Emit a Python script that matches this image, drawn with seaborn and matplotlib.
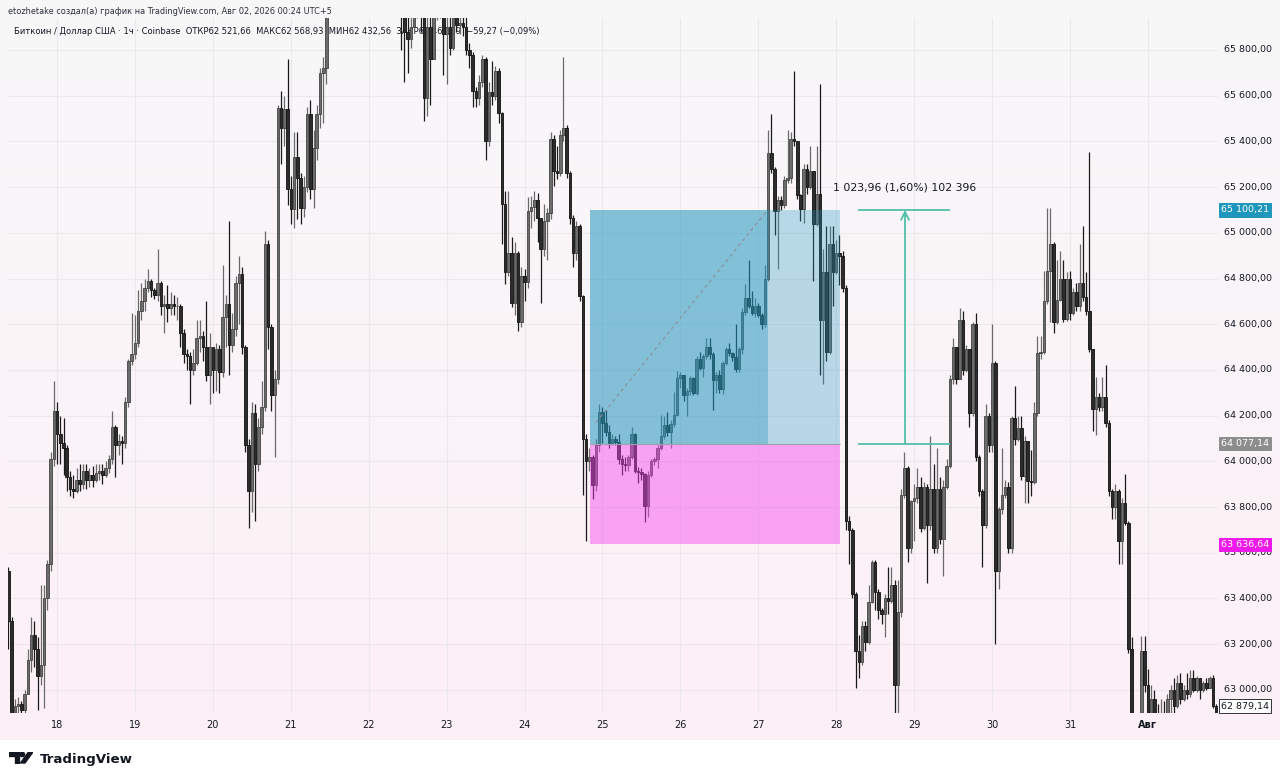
import numpy as np
import matplotlib
matplotlib.use("Agg")
import matplotlib.pyplot as plt
import matplotlib.transforms as mtransforms
from matplotlib.patches import Rectangle, Polygon, Circle
import seaborn as sns

sns.set_theme(style="white")
plt.rcParams['font.family'] = ['DejaVu Sans']

# BTC/USD 1h candles (Coinbase), 17 Jul 09:00 .. 1 Aug
first_open = 63520
closes = [
    # 17-19
    63300, 62900, 62930, 62940, 62910, 62980, 63130, 63240, 63180, 63060,
    63110, 63400, 63550, 64010, 64220, 64120, 64080, 64060, 63930, 63880,
    63870, 63920, 63900, 63960, 63920, 63940, 63920, 63950, 63960, 63940,
    63970, 64010, 64150, 64070, 64090, 64080, 64260, 64440, 64470, 64520,
    64660, 64700, 64760, 64790, 64750, 64730, 64780, 64680, 64690, 64670,
    64690, 64680, 64680, 64560, 64470, 64460, 64400, 64430, 64540, 64550,
    64500,
    # 19-21
    64380, 64500, 64400, 64490, 64390, 64630, 64690, 64510, 64580, 64780,
    64820, 64500, 64070, 63870, 64210, 63990, 64150, 64240, 64950, 64590,
    64290, 64360, 65545, 65460, 65540, 65190, 65105, 65330, 65240, 65110,
    65200, 65520, 65190, 65370, 65520, 65700, 65720, 65990,
    # 21-22 (above the visible range)
    66050, 66120, 66180, 66100, 66230, 66150, 66080, 66200, 66260, 66170,
    66110, 66190, 66240, 66160, 66090, 66140, 66210, 66130, 66060, 66110,
    66040, 66000,
    # 22-24
    65960, 65880, 65850, 65900, 65980, 66000, 65950, 65590, 65900, 65760,
    65960, 66000, 65990, 65870, 65900, 65810, 65950, 65910, 65920, 65900,
    65800, 65780, 65620, 65590, 65660, 65760, 65400, 65615, 65600, 65710,
    65525, 65125, 64830, 64910, 64695, 64910, 64610, 64810, 64785, 65095,
    65115, 65145, 65065, 64930, 65050, 65085, 65410, 65270, 65260, 65430,
    65460, 65260, 65065, 64910, 65030, 64725, 64100, 64000, 64020, 63895,
    64070, 64215,
    # 25-27
    64170, 64130, 64080, 64100, 64085, 64010, 63990, 63985, 64020, 64120,
    63960, 63955, 63945, 63805, 63940, 64000, 64010, 64060, 64110, 64160,
    64130, 64165, 64205, 64365, 64380, 64290, 64310, 64365, 64300, 64450,
    64410, 64460, 64500, 64470, 64355, 64380, 64315, 64430, 64490, 64475,
    64455, 64405, 64490, 64655, 64715, 64680, 64650, 64680, 64640, 64600,
    64800, 65350, 65280, 65095, 65145, 65120, 65230, 65240, 65410, 65400,
    65165, 65105, 65280, 65200,
    # 27-30
    65270, 65040, 65170, 64620, 64830, 64480, 64950, 64830, 64910, 64900,
    64760, 63740, 63700, 63420, 63170, 63120, 63280, 63210, 63385, 63560,
    63430, 63350, 63330, 63400, 63390, 63460, 63020, 63340, 63855, 63970,
    63620, 63825, 63840, 63890, 63710, 63890, 63720, 63880, 63620, 63880,
    63660, 63890, 63980, 64360, 64500, 64360, 64620, 64400, 64490, 64210,
    64600, 64020, 63870, 63720, 64200, 64070, 64430, 63520, 63790, 63855,
    63890, 63620,
    # 30 - Aug 1
    64190, 64100, 64145, 63935, 64090, 63915, 63910, 64210, 64475, 64480,
    64700, 64835, 64950, 64612, 64708, 64800, 64625, 64800, 64650, 64740,
    64680, 64780, 64720, 64660, 64490, 64230, 64283, 64240, 64283, 64170,
    63870, 63800, 63870, 63650, 63820, 63730, 63180, 62880, 62700, 62780,
    63170, 63020, 62900, 62960, 62890, 62860, 62900, 62880, 62960, 63000,
    62930, 63030, 62960, 63000, 62980, 63050, 63000, 63050, 63000, 63030,
    63010, 63050, 62930, 62879,
]
highs = [
    63540, 63320, 62960, 62970, 62950, 63000, 63180, 63320, 63300, 63230,
    63460, 63460, 63570, 64040, 64350, 64260, 64200, 64190, 64070, 63960,
    63940, 63970, 63990, 63990, 63990, 63970, 63980, 63990, 63990, 63990,
    64000, 64030, 64220, 64160, 64120, 64110, 64280, 64450, 64650, 64640,
    64750, 64780, 64800, 64840, 64800, 64760, 64930, 64790, 64730, 64770,
    64740, 64730, 64720, 64690, 64580, 64490, 64480, 64490, 64620, 64620,
    64570,
    64700, 64560, 64500, 64520, 64510, 64860, 64730, 65050, 64650, 64810,
    64900, 64850, 64510, 64100, 64260, 64250, 64190, 64350, 65010, 64970,
    64600, 64400, 65560, 65620, 65600, 65760, 65250, 65440, 65440, 65260,
    65250, 65550, 65580, 65450, 65560, 65720, 65770, 66020,
    66130, 66200, 66250, 66190, 66300, 66240, 66160, 66280, 66330, 66250,
    66190, 66260, 66310, 66240, 66170, 66220, 66290, 66210, 66140, 66190,
    66120, 66080,
    66050, 66000, 65990, 66010, 66080, 66100, 66080, 65980, 65960, 65960,
    66020, 66080, 66060, 66020, 65980, 65950, 66000, 66000, 65990, 65990,
    65950, 65830, 65790, 65640, 65690, 65780, 65770, 65660, 65750, 65730,
    65720, 65530, 65185, 65185, 64980, 64960, 64920, 64850, 64840, 65155,
    65160, 65185, 65175, 65060, 65125, 65110, 65440, 65430, 65380, 65450,
    65770, 65470, 65270, 65080, 65050, 65040, 64730, 64120, 64060, 64030,
    64100, 64250,
    64240, 64225, 64160, 64120, 64110, 64120, 64030, 64020, 64030, 64150,
    64125, 63975, 63970, 63950, 63960, 64010, 64020, 64070, 64205, 64200,
    64215, 64180, 64305, 64395, 64390, 64360, 64320, 64375, 64370, 64460,
    64480, 64470, 64540, 64540, 64480, 64390, 64400, 64440, 64500, 64520,
    64480, 64600, 64500, 64670, 64775, 64880, 64745, 64715, 64695, 64650,
    64860, 65450, 65520, 65290, 65160, 65160, 65250, 65450, 65440, 65710,
    65400, 65170, 65300, 65300,
    65380, 65250, 65380, 65650, 64930, 65030, 65030, 65030, 64970, 64990,
    64920, 64770, 63760, 63710, 63430, 63240, 63300, 63300, 63460, 63570,
    63570, 63440, 63360, 63420, 63540, 63540, 63480, 63480, 63880, 64040,
    63980, 63830, 63900, 63970, 63930, 63910, 63900, 64110, 63990, 64060,
    63930, 63920, 64010, 64380, 64540, 64500, 64670, 64660, 64510, 64490,
    64610, 64650, 64030, 63880, 64250, 64210, 64600, 64440, 63800, 64060,
    63920, 63910,
    64200, 64330, 64200, 64200, 64110, 64090, 64050, 64260, 64550, 64550,
    64835, 65110, 65110, 64960, 64880, 64920, 64880, 64830, 64835, 64760,
    64780, 64950, 65030, 64830, 65355, 64490, 64370, 64300, 64370, 64420,
    64180, 63880, 63900, 63880, 63840, 63945, 63740, 63230, 62860, 62870,
    63235, 63235, 63090, 63020, 63000, 62940, 62960, 62950, 62980, 63020,
    63050, 63064, 63075, 63020, 63075, 63085, 63085, 63060, 63010, 63040,
    63053, 63060, 63064, 62940,
]
lows = [
    63180, 62860, 62880, 62890, 62880, 62890, 62990, 63080, 63100, 62910,
    63020, 62920, 63350, 63520, 63980, 63990, 63990, 63940, 63870, 63850,
    63840, 63860, 63870, 63880, 63880, 63890, 63890, 63910, 63920, 63900,
    63930, 63950, 63990, 63930, 64030, 63990, 64060, 64240, 64420, 64450,
    64500, 64620, 64660, 64740, 64720, 64710, 64700, 64640, 64560, 64610,
    64640, 64640, 64620, 64500, 64430, 64400, 64250, 64380, 64420, 64480,
    64440,
    64350, 64250, 64300, 64310, 64300, 64370, 64500, 64380, 64480, 64550,
    64600, 64470, 64040, 63710, 63780, 63740, 63960, 64120, 64220, 64490,
    64220, 64020, 64340, 65300, 65380, 65120, 65040, 65020, 65060, 65040,
    65070, 65180, 65150, 65110, 65320, 65460, 65480, 65650,
    65960, 66010, 66060, 66020, 66080, 66050, 65990, 66030, 66120, 66090,
    66020, 66060, 66140, 66070, 66010, 66050, 66080, 66040, 65990, 66010,
    65980, 65970,
    65800, 65660, 65700, 65810, 65900, 65940, 65880, 65490, 65510, 65560,
    65770, 65930, 65940, 65690, 65650, 65780, 65800, 65880, 65870, 65860,
    65780, 65720, 65550, 65550, 65560, 65640, 65320, 65380, 65560, 65580,
    65480, 64950, 64775, 64810, 64675, 64640, 64570, 64590, 64700, 64760,
    65020, 65050, 64960, 64695, 64900, 64880, 65060, 65205, 65235, 65250,
    65400, 65240, 65040, 64850, 64880, 64700, 63855, 63650, 63960, 63835,
    63870, 64040,
    64080, 64110, 64060, 64070, 64070, 63990, 63940, 63960, 63960, 64010,
    63950, 63905, 63920, 63735, 63755, 63930, 63985, 63970, 64050, 64100,
    64110, 64060, 64150, 64200, 64320, 64265, 64200, 64290, 64290, 64290,
    64400, 64370, 64450, 64450, 64225, 64300, 64300, 64295, 64420, 64460,
    64440, 64390, 64390, 64470, 64640, 64670, 64640, 64630, 64630, 64580,
    64590, 64790, 65260, 64990, 64840, 65100, 65110, 65220, 65220, 65380,
    65150, 65050, 65045, 65170,
    65190, 64790, 65030, 64380, 64340, 64440, 64470, 64680, 64820, 64770,
    64740, 63700, 63550, 63400, 63010, 63050, 63110, 63170, 63200, 63380,
    63350, 63310, 63290, 63230, 63330, 63380, 62890, 62890, 63320, 63840,
    63560, 63600, 63650, 63820, 63690, 63700, 63470, 63700, 63600, 63600,
    63640, 63500, 63880, 63970, 64340, 64340, 64400, 64380, 64390, 64150,
    64200, 64000, 63850, 63540, 63710, 64040, 64040, 63200, 63440, 63770,
    63840, 63600,
    63600, 64070, 64090, 63920, 63820, 63820, 63850, 63900, 64200, 64450,
    64470, 64690, 64610, 64560, 64600, 64700, 64610, 64615, 64620, 64640,
    64660, 64660, 64700, 64640, 64480, 64135, 64114, 64220, 64220, 64150,
    63850, 63750, 63750, 63550, 63550, 63720, 63160, 62800, 62650, 62680,
    62760, 62990, 62850, 62870, 62860, 62820, 62850, 62840, 62870, 62880,
    62900, 62920, 62940, 62950, 62960, 62970, 62990, 62990, 62960, 62990,
    63000, 63010, 62920, 62860,
]

day_labels = ['18', '19', '20', '21', '22', '23', '24', '25', '26', '27',
              '28', '29', '30', '31', 'Авг']
price_ticks = list(range(63000, 65801, 200))

# long position tool and price scale markers
target_price = 65100.21
entry_price = 64077.14
stop_price = 63636.64
last_price = 62879.14
position_start, position_fill, position_end = 179.1, 233.9, 256.1
trade_path_x = [181.0, 233.9]
trade_path_y = [64170, 65100.21]
measure_left, measure_mid, measure_right = 261.7, 276.2, 290.0
measure_label = '1 023,96 (1,60%) 102 396'

header_1 = 'etozhetake создал(а) график на TradingView.com, Авг 02, 2026 00:24 UTC+5'
header_2 = ('Биткоин / Доллар США · 1ч · Coinbase  ОТКР62 521,66  МАКС62 568,93  '
            'МИН62 432,56  ЗАКР62 462,39  −59,27 (−0,09%)')


def price_fmt(v):
    return f'{v:,.2f}'.replace(',', ' ').replace('.', ',')


W, H = 1280, 783


def fx(px):
    return px / W


def fy(py):
    return 1 - py / H


fig = plt.figure(figsize=(12.8, 7.83), dpi=100)
fig.patch.set_facecolor('white')

# soft grey -> pink background like the TradingView pane
bg = fig.add_axes([0, fy(740), 1, fy(0) - fy(740)], zorder=0)
top_c = np.array([0.972, 0.972, 0.976])
bot_c = np.array([0.992, 0.941, 0.965])
t = np.linspace(0, 1, 256)[:, None, None]
grad = top_c * (1 - t) + bot_c * t
bg.imshow(grad, aspect='auto', extent=[0, 1, 0, 1])
bg.axis('off')

ax = fig.add_axes([fx(8), fy(713), fx(1218) - fx(8), fy(18) - fy(713)], zorder=1)
ax.set_facecolor('none')
for s in ax.spines.values():
    s.set_visible(False)

n = len(closes)
idx = np.arange(n)
c = np.array(closes, dtype=float)
o = np.concatenate([[first_open], c[:-1]])
h = np.maximum(np.array(highs, dtype=float), np.maximum(o, c))
l = np.minimum(np.array(lows, dtype=float), np.minimum(o, c))
up = c >= o

day_pos = [15 + 24 * k for k in range(len(day_labels))]
ax.set_xlim(-0.1, 372.6)
ax.set_ylim(62899, 65940)
ax.set_xticks(day_pos)
ax.set_yticks(price_ticks)
ax.tick_params(length=0, labelbottom=False, labelleft=False)
ax.grid(True, color='#ebe9ee', linewidth=0.8)
ax.set_axisbelow(True)

ax.text(fx(14), fy(32), header_2, transform=fig.transFigure, fontsize=6.0,
        color='#131722', va='center', ha='left', zorder=2)

# candles: grey for rising hours, near-black for falling hours
ax.vlines(idx[up], l[up], h[up], color='#6a6a6a', linewidth=0.9, zorder=3)
ax.vlines(idx[~up], l[~up], h[~up], color='#1a1a1a', linewidth=0.9, zorder=3)
ax.bar(idx[up], (c - o)[up], bottom=o[up], width=0.78, color='#6c6c6c',
       edgecolor='#444444', linewidth=0.6, zorder=4)
ax.bar(idx[~up], (c - o)[~up], bottom=o[~up], width=0.78, color='#2c2c2c',
       edgecolor='#111111', linewidth=0.6, zorder=4)

# long position boxes
blue = (33 / 255, 150 / 255, 190 / 255)
ax.add_patch(Rectangle((position_start, entry_price), position_fill - position_start,
                       target_price - entry_price, facecolor=blue, alpha=0.55,
                       linewidth=0, zorder=5))
ax.add_patch(Rectangle((position_fill, entry_price), position_end - position_fill,
                       target_price - entry_price, facecolor=blue, alpha=0.3,
                       linewidth=0, zorder=5))
ax.add_patch(Rectangle((position_start, stop_price), position_end - position_start,
                       entry_price - stop_price, facecolor=(245 / 255, 65 / 255, 236 / 255),
                       alpha=0.45, linewidth=0, zorder=5))
ax.hlines(entry_price, position_start, position_end, color='#a0a0a8', linewidth=0.8, zorder=6)
sns.lineplot(x=trade_path_x, y=trade_path_y, ax=ax, color='#8a8f98', linewidth=0.8,
             linestyle=(0, (3, 3)), zorder=6)

# measure tool
teal = '#52bfa9'
ax.hlines([target_price, entry_price], measure_left, measure_right, color=teal,
          linewidth=1.3, zorder=6)
ax.annotate('', xy=(measure_mid, target_price), xytext=(measure_mid, entry_price),
            arrowprops=dict(arrowstyle='->', color=teal, lw=1.3, mutation_scale=14,
                            shrinkA=0, shrinkB=0), zorder=6)
ax.text(measure_mid, 65200, measure_label, ha='center', va='center', fontsize=7.8,
        color='#131722', zorder=7)

# price scale on the right
ytr = mtransforms.blended_transform_factory(fig.transFigure, ax.transData)
for p in price_ticks:
    ax.text(fx(1224), p, price_fmt(p), transform=ytr, fontsize=6.8, color='#131722',
            ha='left', va='center', zorder=7)
for val, fc, ec, tc in [(target_price, '#1f97bd', '#1f97bd', 'white'),
                        (entry_price, '#8d8d8d', '#8d8d8d', 'white'),
                        (stop_price, '#ee19ea', '#ee19ea', 'white')]:
    ax.text(fx(1221), val, price_fmt(val), transform=ytr, fontsize=6.8, color=tc,
            ha='left', va='center', zorder=8,
            bbox=dict(boxstyle='square,pad=0.22', facecolor=fc, edgecolor=ec, linewidth=0.7))
# last price label is pinned to the bottom edge of the scale
fig.text(fx(1221), fy(706), price_fmt(last_price), fontsize=6.8, color='#131722',
         ha='left', va='center', zorder=8,
         bbox=dict(boxstyle='square,pad=0.22', facecolor='white', edgecolor='#333333',
                   linewidth=0.7))

# day labels
for pos, lab in zip(day_pos, day_labels):
    ax.text(pos, -0.017, lab, transform=ax.get_xaxis_transform(), ha='center', va='center',
            fontsize=7, color='#131722', fontweight='bold' if lab == 'Авг' else 'normal')

fig.text(fx(8), fy(12), header_1, fontsize=5.9, color='#2a2e39', va='center', ha='left')

# TradingView logo
lg = fig.add_axes([fx(9), fy(764), fx(24), 12 / H], zorder=3)
lg.set_xlim(0, 24)
lg.set_ylim(0, 12)
lg.axis('off')
lg.add_patch(Polygon([(0, 12), (10, 12), (10, 1), (6, 1), (6, 8), (0, 8)],
                     closed=True, color='#131722'))
lg.add_patch(Circle((13.2, 9.6), 2.3, color='#131722'))
lg.add_patch(Polygon([(11.5, 1), (16, 1), (24, 12), (19.5, 12)], closed=True,
                     color='#131722'))
fig.text(fx(40), fy(759), 'TradingView', fontsize=9.6, fontweight='bold',
         color='#131722', va='center', ha='left')

fig.savefig('out.png', dpi=100)
